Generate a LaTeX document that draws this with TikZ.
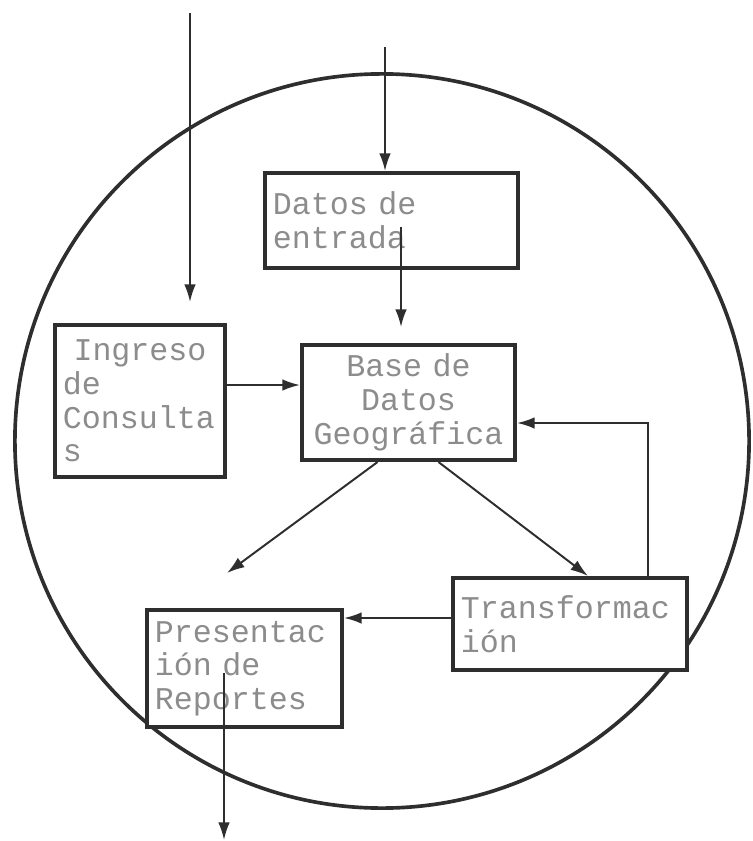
\documentclass[tikz,border=0pt]{standalone}
\usepackage{fontspec}
\setmonofont{Liberation Mono}
\usetikzlibrary{arrows.meta, positioning, calc}
\definecolor{inkline}{gray}{0.18}
\definecolor{inktext}{gray}{0.55}

\begin{document}
\begin{tikzpicture}[
    x=0.025cm, y=-0.025cm,
    >={Latex[length=4.4mm, width=2.9mm]},
    procnode/.style={draw=inkline, line width=2.9pt, rectangle, fill=white, inner xsep=0.2cm, inner ysep=0pt, font=\ttfamily\fontsize{22.5}{24}\selectfont, text=inktext, align=left},
    orbit/.style={draw=inkline, line width=2.6pt, circle, minimum size=18.35cm, inner sep=0pt},
    flow_dw/.style={->, line width=1.4pt, inkline}
]
    \useasboundingbox (0,0) rectangle (753,841);

    \node[orbit] (sistema) at (382,441) {};

    \node[procnode, minimum width=6.325cm, minimum height=2.375cm, text width=5.925cm] (datos) at (391.5,220.5) {Datos de\\entrada};
    \node[procnode, minimum width=4.25cm, minimum height=3.8cm, text width=3.85cm] (ingreso) at (140,401) {~Ingreso\\de\\Consulta\\s};
    \node[procnode, minimum width=5.325cm, minimum height=2.875cm, text width=4.925cm, align=center] (base_geo) at (408.5,402.5) {Base de\\Datos\\Geográfica};
    \node[procnode, minimum width=4.875cm, minimum height=2.925cm, text width=4.475cm] (reportes) at (244.5,668.5) {Presentac\\ión de\\Reportes};
    \node[procnode, minimum width=5.85cm, minimum height=2.3cm, text width=5.45cm] (transf) at (570,624) {Transformac\\ión};

    \coordinate (consulta_src) at (190,13);
    \coordinate (consulta_tip) at (190,302);
    \draw[flow_dw] (consulta_src) -- (consulta_tip);

    \coordinate (datos_src) at (385,47);
    \draw[flow_dw] (datos_src) -- (datos_src |- datos.north);

    \coordinate (datos_out) at (401,227);
    \coordinate (base_in) at (401,327);
    \draw[flow_dw] (datos_out) -- (base_in);

    \coordinate (consulta_y) at (0,385);
    \draw[flow_dw] (ingreso.east |- consulta_y) -- (base_geo.west |- consulta_y);

    \coordinate (reporte_tip) at (227,573);
    \draw[flow_dw] ($(base_geo.south)+(-31,0)$) -- (reporte_tip);
    \draw[flow_dw] ($(base_geo.south)+(30,0)$) -- ($(transf.north)+(18,0)$);

    \draw[flow_dw] ($(transf.north)+(78,0)$) |- ($(base_geo.east)+(0,20.5)$);

    \coordinate (transf_out) at ($(transf.west)+(0,-6)$);
    \draw[flow_dw] (transf_out) -- (transf_out -| reportes.east);

    \coordinate (reporte_out) at (224,673);
    \coordinate (reporte_end) at (224,840);
    \draw[flow_dw] (reporte_out) -- (reporte_end);
\end{tikzpicture}
\end{document}
